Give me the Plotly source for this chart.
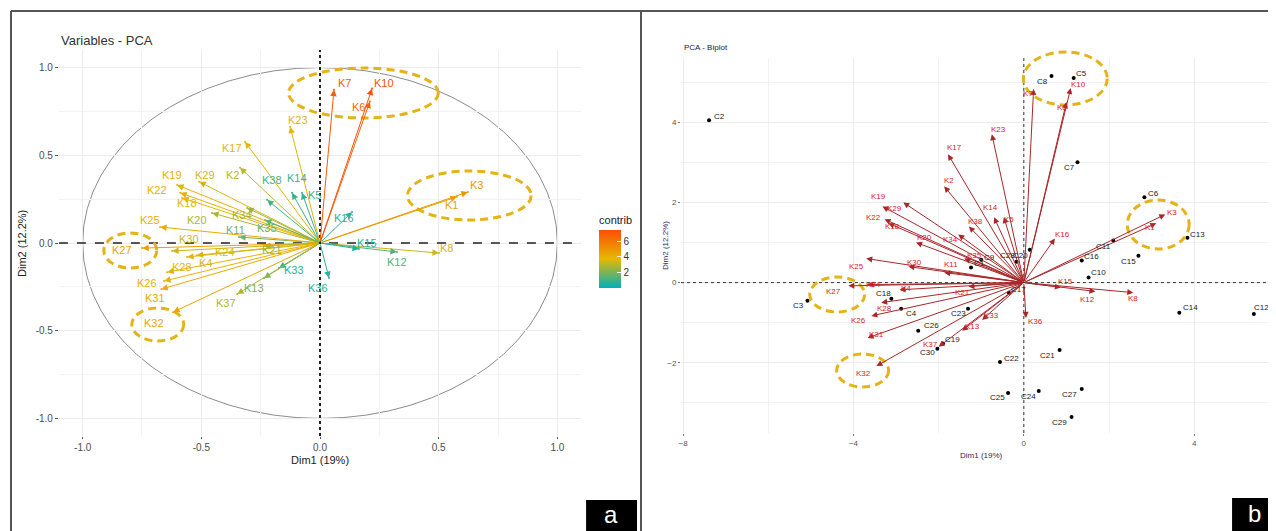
import plotly.graph_objects as go
from plotly.colors import sample_colorscale

# the page body has an 8px margin; the figure is sized so it fills the 1276x531 window
PAGE_W, PAGE_H = 1276, 531
OFF = 8
W, H = PAGE_W - OFF, PAGE_H - OFF
FONT = "Liberation Sans, Arial, sans-serif"

# ---------------- data: panel a (variables, correlation circle) ----------------
var_names = ["K1", "K2", "K3", "K4", "K5", "K6", "K7", "K8", "K10", "K11", "K12", "K13",
             "K14", "K15", "K16", "K17", "K18", "K19", "K20", "K21", "K22", "K23", "K24",
             "K25", "K26", "K27", "K28", "K29", "K30", "K31", "K32", "K33", "K34", "K35",
             "K36", "K37", "K38"]
var_dim1 = [0.577, -0.337, 0.623, -0.52, -0.076, 0.21, 0.059, 0.501, 0.219, -0.341, 0.324, -0.236,
            -0.118, 0.164, 0.135, -0.316, -0.581, -0.602, -0.455, -0.236, -0.589, -0.126, -0.56,
            -0.674, -0.657, -0.749, -0.644, -0.509, -0.623, -0.669, -0.619, -0.173, -0.307, -0.232,
            0.038, -0.349, -0.223]
var_dim2 = [0.263, 0.429, 0.291, -0.07, 0.286, 0.806, 0.874, -0.057, 0.88, 0.034, -0.051, -0.20,
            0.286, -0.034, 0.177, 0.577, 0.257, 0.331, 0.171, -0.017, 0.286, 0.663, -0.08,
            0.091, -0.217, -0.029, -0.166, 0.349, -0.046, -0.263, -0.394, -0.143, 0.20, 0.131,
            -0.20, -0.291, 0.246]
var_contrib = [4.5, 3.0, 4.9, 3.4, 0.9, 6.6, 7.0, 3.3, 7.3, 1.8, 1.3, 1.9,
               1.0, 0.6, 0.8, 3.6, 3.7, 4.0, 2.8, 2.5, 4.0, 3.6, 3.5,
               4.1, 3.9, 4.6, 3.9, 3.4, 3.3, 4.2, 4.4, 0.7, 2.6, 1.6,
               0.7, 2.8, 1.2]

# ---------------- data: panel b (biplot) ----------------
bi_var_dim1 = [3.11, -1.87, 3.32, -2.92, -0.47, 1.00, 0.23, 2.57, 1.10, -1.87, 1.68, -1.45,
               -0.70, 0.87, 0.73, -1.78, -3.18, -2.83, -2.53, -1.30, -3.27, -0.75, -3.67,
               -3.70, -3.58, -4.12, -3.35, -3.32, -2.71, -3.67, -3.46, -0.98, -1.54, -1.40,
               0.05, -2.00, -1.29]
bi_var_dim2 = [1.48, 2.40, 1.70, -0.18, 1.63, 4.50, 4.83, -0.25, 4.85, 0.25, -0.22, -1.20,
               1.63, -0.12, 1.10, 3.20, 1.48, 2.00, 1.00, -0.10, 1.58, 3.70, -0.05,
               0.60, -0.83, -0.08, -0.50, 1.90, 0.40, -1.38, -2.08, -0.93, 1.20, 0.60,
               -0.88, -1.60, 1.40]

ind_names = ["C1", "C2", "C3", "C4", "C5", "C6", "C7", "C8", "C9", "C10", "C11", "C12", "C13",
             "C14", "C15", "C16", "C17", "C18", "C19", "C20", "C21", "C22", "C23", "C24", "C25",
             "C26", "C27", "C28", "C29", "C30"]
ind_dim1 = [-1.24, -7.39, -5.08, -2.88, 1.17, 2.83, 1.26, 0.65, -1.00, 1.52, 2.10, 5.40, 3.84,
            3.65, 2.69, 1.36, -0.35, -3.11, -1.90, 0.14, 0.84, -0.56, -1.31, 0.35, -0.37,
            -2.48, 1.36, -0.17, 1.12, -2.03]
ind_dim2 = [0.375, 4.05, -0.45, -0.65, 5.10, 2.13, 3.00, 5.15, 0.57, 0.13, 1.05, -0.78, 1.12,
            -0.75, 0.67, 0.55, -0.25, -0.40, -1.52, 0.82, -1.68, -1.98, -0.65, -2.70, -2.75,
            -1.20, -2.65, 0.52, -3.35, -1.65]

# ---------------- label offsets in pixels (layout only) ----------------
var_label_off = {
    "K1": (-5, 8), "K2": (-8, 7), "K3": (9, -7), "K4": (9, 8), "K5": (13, 2), "K6": (-11, 5),
    "K7": (10, -7), "K8": (8, -5), "K10": (12, -6), "K11": (-4, -7), "K12": (0, 10),
    "K13": (-10, 10), "K14": (5, -15), "K15": (8, -6), "K16": (-8, 6), "K17": (-13, 6),
    "K18": (5, 5), "K19": (-5, -10), "K20": (-15, 7), "K21": (8, 4), "K22": (-23, -3),
    "K23": (8, -7), "K24": (38, -5), "K25": (-10, -7), "K26": (-17, 2), "K27": (-20, 2),
    "K28": (15, -5), "K29": (6, -7), "K30": (17, -12), "K31": (-6, 9), "K32": (-19, 11),
    "K33": (15, 2), "K34": (-5, 7), "K35": (2, 8), "K36": (-11, 10), "K37": (-11, 9),
    "K38": (5, -20),
}
bi_label_off = {
    "K1": (-6, 4), "K2": (5, -6), "K3": (7, -2), "K4": (7, -1), "K5": (5, 2), "K6": (-4, 5),
    "K7": (-6, 5), "K8": (0, 6), "K10": (8, -4), "K11": (7, -8), "K12": (-8, 8),
    "K13": (10, -4), "K14": (-4, -10), "K15": (5, -6), "K16": (8, -4), "K17": (6, -7),
    "K18": (4, 3), "K19": (-25, -6), "K20": (8, -5), "K21": (-6, 6), "K22": (-11, -2),
    "K23": (7, -5), "K24": (6, 0), "K25": (-10, 8), "K26": (-13, 5), "K27": (-15, 6),
    "K28": (3, 6), "K29": (12, 2), "K30": (6, -4), "K31": (9, -3), "K32": (-13, 7),
    "K33": (9, -4), "K34": (-8, 5), "K35": (10, -3), "K36": (10, 4), "K37": (-8, -2),
    "K38": (7, -5),
}
ind_label_off = {
    "C1": (8, -4), "C2": (10, -4), "C3": (-9, 5), "C4": (10, 5), "C5": (8, -5), "C6": (9, -4),
    "C7": (-8, 5), "C8": (-9, 5), "C9": (8, -2), "C10": (10, -5), "C11": (-10, 6),
    "C12": (8, -6), "C13": (10, -3), "C14": (11, -5), "C15": (-10, 6), "C16": (10, -4),
    "C17": (10, -3), "C18": (-8, -5), "C19": (10, -4), "C20": (-9, 6), "C21": (-12, 6),
    "C22": (12, -4), "C23": (-10, 5), "C24": (-10, 6), "C25": (-11, 5), "C26": (13, -5),
    "C27": (-12, 6), "C28": (-9, -6), "C29": (-12, 6), "C30": (-10, 4),
}

# highlight ellipses (pixel boxes x0, y0, x1, y1) - decoration
highlight_boxes = [(287, 68, 437, 118), (406, 171, 530, 220), (102, 233, 155, 268),
                   (130, 308, 182, 341), (1023, 52, 1107, 105), (1127, 200, 1189, 249),
                   (809, 277, 864, 312), (836, 354, 888, 387)]

COLORSCALE = [[0, "#00AFBB"], [0.5, "#E7B800"], [1, "#FC4E07"]]
CMIN, CMAX = 0.05, 7.4


def fx(p):
    """page pixel x -> paper fraction"""
    return (p - OFF) / W


def fy(p):
    """page pixel y -> paper fraction"""
    return 1 - (p - OFF) / H


fig = go.Figure()

# colour bar carrier (tiny markers at arrow tips)
fig.add_trace(go.Scatter(
    x=var_dim1, y=var_dim2, mode="markers", xaxis="x", yaxis="y", hoverinfo="skip",
    marker=dict(size=2, color=var_contrib, colorscale=COLORSCALE, cmin=CMIN, cmax=CMAX,
                showscale=True,
                colorbar=dict(x=fx(598), xanchor="left", y=fy(250.5), yanchor="middle",
                              lenmode="pixels", len=75, thicknessmode="pixels", thickness=22,
                              outlinewidth=0, tickvals=[2, 4, 6], ticks="inside", ticklen=4,
                              tickcolor="white", tickfont=dict(size=10, color="#333", family=FONT),
                              xpad=0, ypad=0,
                              title=dict(text="contrib", side="top",
                                         font=dict(size=11, color="#222", family=FONT)))),
    showlegend=False))

# individuals in biplot
fig.add_trace(go.Scatter(
    x=ind_dim1, y=ind_dim2, mode="markers", xaxis="x2", yaxis="y2", hoverinfo="text",
    text=ind_names, marker=dict(size=4, color="black"), showlegend=False))

ann = []
cols = sample_colorscale(COLORSCALE, [(c - CMIN) / (CMAX - CMIN) for c in var_contrib])
for name, x, y, col in zip(var_names, var_dim1, var_dim2, cols):
    ann.append(dict(x=x, y=y, ax=0, ay=0, xref="x", yref="y", axref="x", ayref="y",
                    text="", showarrow=True, arrowhead=2, arrowsize=1.3, arrowwidth=1,
                    arrowcolor=col, standoff=0))
for name, x, y, col in zip(var_names, var_dim1, var_dim2, cols):
    dx, dy = var_label_off.get(name, (0, -8))
    ann.append(dict(x=x, y=y, xref="x", yref="y", text=name, showarrow=False,
                    xanchor="center", yanchor="middle",
                    xshift=dx, yshift=-dy, font=dict(size=11, color=col, family=FONT)))

for name, x, y in zip(var_names, bi_var_dim1, bi_var_dim2):
    ann.append(dict(x=x, y=y, ax=0, ay=0, xref="x2", yref="y2", axref="x2", ayref="y2",
                    text="", showarrow=True, arrowhead=2, arrowsize=1.2, arrowwidth=1,
                    arrowcolor="#A8282A", standoff=0))
for name, x, y in zip(var_names, bi_var_dim1, bi_var_dim2):
    dx, dy = bi_label_off.get(name, (0, -6))
    ann.append(dict(x=x, y=y, xref="x2", yref="y2", text=name, showarrow=False,
                    xanchor="center", yanchor="middle",
                    xshift=dx, yshift=-dy, font=dict(size=8, color="#E0201E", family=FONT)))
for name, x, y in zip(ind_names, ind_dim1, ind_dim2):
    dx, dy = ind_label_off.get(name, (8, -4))
    ann.append(dict(x=x, y=y, xref="x2", yref="y2", text=name, showarrow=False,
                    xanchor="center", yanchor="middle",
                    xshift=dx, yshift=-dy, font=dict(size=8, color="#222", family=FONT)))

# titles / axis titles
C, M = "center", "middle"
ann += [
    dict(x=fx(57), y=fy(40), xref="paper", yref="paper", text="Variables - PCA", showarrow=False,
         xanchor="left", yanchor=M, font=dict(size=13, color="#333", family=FONT)),
    dict(x=fx(318), y=fy(460), xref="paper", yref="paper", text="Dim1 (19%)", showarrow=False,
         xanchor=C, yanchor=M, font=dict(size=11, color="#222", family=FONT)),
    dict(x=fx(20), y=fy(243), xref="paper", yref="paper", text="Dim2 (12.2%)", showarrow=False,
         xanchor=C, yanchor=M, textangle=-90, font=dict(size=11, color="#222", family=FONT)),
    dict(x=fx(681), y=fy(47), xref="paper", yref="paper", text="PCA - Biplot", showarrow=False,
         xanchor="left", yanchor=M, font=dict(size=8, color="#222244", family=FONT)),
    dict(x=fx(981), y=fy(455), xref="paper", yref="paper", text="Dim1 (19%)", showarrow=False,
         xanchor=C, yanchor=M, font=dict(size=8, color="#2a2a6a", family=FONT)),
    dict(x=fx(665), y=fy(245), xref="paper", yref="paper", text="Dim2 (12.2%)", showarrow=False,
         xanchor=C, yanchor=M, textangle=-90, font=dict(size=8, color="#2a2a6a", family=FONT)),
    dict(x=fx(610), y=fy(514), xref="paper", yref="paper", text="a", showarrow=False,
         xanchor=C, yanchor=M, font=dict(size=24, color="white", family=FONT)),
    dict(x=fx(1254), y=fy(513), xref="paper", yref="paper", text="b", showarrow=False,
         xanchor=C, yanchor=M, font=dict(size=24, color="white", family=FONT)),
]

shapes = []
# correlation circle
shapes.append(dict(type="circle", xref="x", yref="y", x0=-1, y0=-1, x1=1, y1=1,
                   line=dict(color="#8C8C8C", width=1), layer="below"))
# zero lines
shapes += [
    dict(type="line", xref="x", yref="y", x0=-1.1, x1=1.1, y0=0, y1=0,
         line=dict(color="#222", width=1.5, dash="dash")),
    dict(type="line", xref="x", yref="y", x0=0, x1=0, y0=-1.1, y1=1.1,
         line=dict(color="#222", width=2, dash="dot")),
    dict(type="line", xref="x2", yref="y2", x0=-8.05, x1=5.92, y0=0, y1=0,
         line=dict(color="#333", width=1, dash="dot")),
    dict(type="line", xref="x2", yref="y2", x0=0, x1=0, y0=-3.75, y1=5.6,
         line=dict(color="#333", width=1, dash="dot")),
]
# highlight ellipses
for (x0, y0, x1, y1) in highlight_boxes:
    shapes.append(dict(type="circle", xref="paper", yref="paper", x0=fx(x0), x1=fx(x1),
                       y0=fy(y1), y1=fy(y0),
                       line=dict(color="#E5B316", width=3, dash="8px,5px")))
# frame lines
shapes += [
    dict(type="line", xref="paper", yref="paper", x0=fx(9), x1=fx(9), y0=fy(11), y1=0,
         line=dict(color="#555", width=2)),
    dict(type="line", xref="paper", yref="paper", x0=fx(9), x1=1, y0=fy(11), y1=fy(11),
         line=dict(color="#555", width=2)),
    dict(type="line", xref="paper", yref="paper", x0=fx(640), x1=fx(640), y0=fy(11), y1=0,
         line=dict(color="#555", width=2)),
    dict(type="rect", xref="paper", yref="paper", x0=fx(585), x1=fx(636), y0=0, y1=fy(500),
         fillcolor="black", line=dict(width=0)),
    dict(type="rect", xref="paper", yref="paper", x0=fx(1232), x1=1, y0=0, y1=fy(498),
         fillcolor="black", line=dict(width=0)),
]

grid = "#EBEBEB"
tickfont_a = dict(size=10, color="#4D4D4D", family=FONT)
tickfont_b = dict(size=8, color="#555", family=FONT)

fig.update_layout(
    width=W, height=H, margin=dict(l=0, r=0, t=0, b=0),
    paper_bgcolor="white", plot_bgcolor="white", showlegend=False,
    font=dict(family=FONT),
    xaxis=dict(domain=[fx(57), fx(580)], range=[-1.1, 1.1], tickvals=[-1, -0.5, 0, 0.5, 1],
               ticktext=["-1.0", "-0.5", "0.0", "0.5", "1.0"], showgrid=True, gridcolor=grid,
               gridwidth=1, zeroline=False, ticks="outside", ticklen=2, tickcolor="#555",
               tickfont=tickfont_a, showline=False,
               minor=dict(tickvals=[-0.75, -0.25, 0.25, 0.75], showgrid=True,
                          gridcolor="#F2F2F2", gridwidth=1)),
    yaxis=dict(domain=[fy(436), fy(50)], range=[-1.1, 1.1], tickvals=[-1, -0.5, 0, 0.5, 1],
               ticktext=["-1.0", "-0.5", "0.0", "0.5", "1.0"], showgrid=True, gridcolor=grid,
               gridwidth=1, zeroline=False, ticks="outside", ticklen=3, tickcolor="#555",
               tickfont=tickfont_a, showline=False,
               minor=dict(tickvals=[-0.75, -0.25, 0.25, 0.75], showgrid=True,
                          gridcolor="#F2F2F2", gridwidth=1)),
    xaxis2=dict(domain=[fx(680), 1.0], range=[-8.05, 5.92], tickvals=[-8, -4, 0, 4],
                showgrid=True, gridcolor=grid, gridwidth=1, zeroline=False, ticks="outside",
                ticklen=2, tickcolor="#777", tickfont=tickfont_b, anchor="y2",
                minor=dict(tickvals=[-6, -2, 2], showgrid=True, gridcolor="#F2F2F2")),
    yaxis2=dict(domain=[fy(433), fy(58)], range=[-3.75, 5.6], tickvals=[-2, 0, 2, 4],
                showgrid=True, gridcolor=grid, gridwidth=1, zeroline=False, ticks="outside",
                ticklen=2, tickcolor="#777", tickfont=tickfont_b, anchor="x2",
                minor=dict(tickvals=[-3, -1, 1, 3, 5], showgrid=True, gridcolor="#F2F2F2")),
    annotations=ann, shapes=shapes,
)

fig.write_html("out.html")
